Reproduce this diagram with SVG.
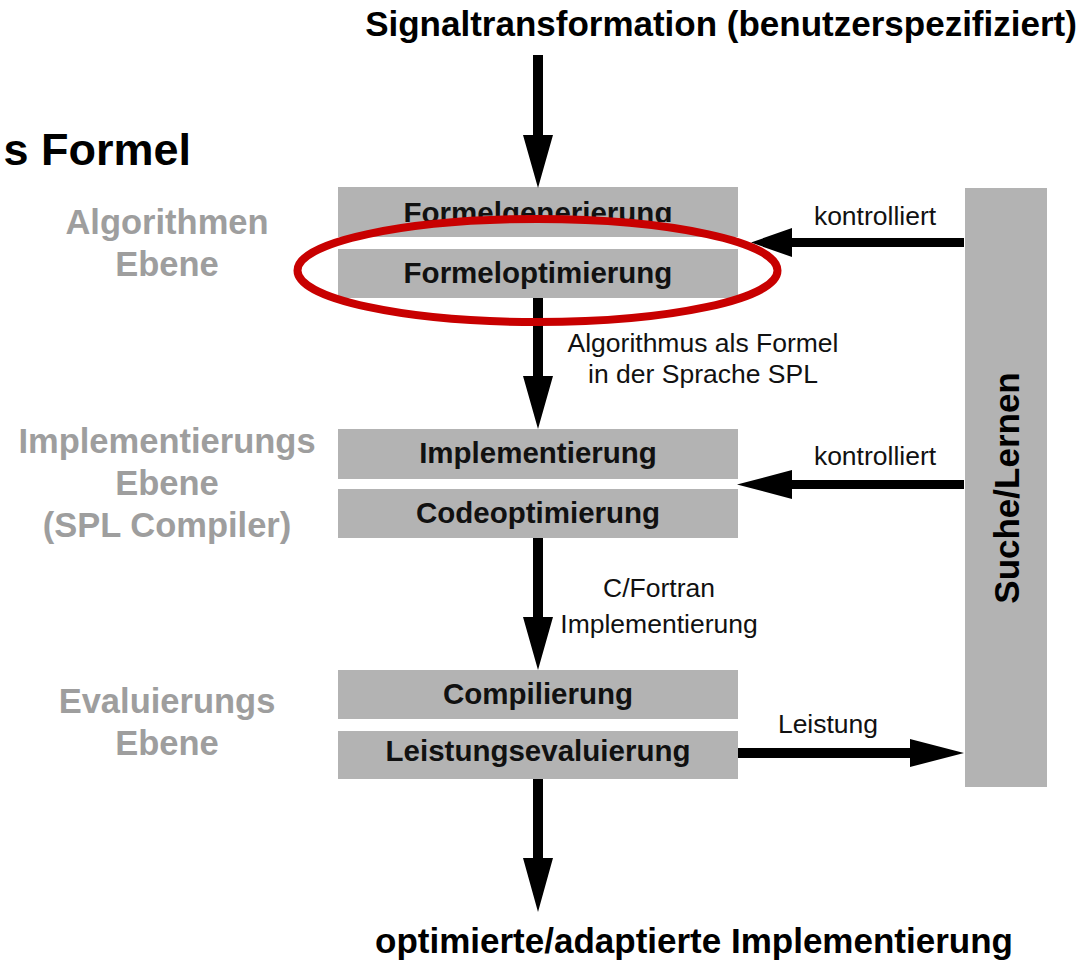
<svg xmlns="http://www.w3.org/2000/svg" width="1089" height="964" viewBox="0 0 1089 964">
<style>
.box{fill:#b3b3b3}
.bt{font-family:"Liberation Sans",Arial,sans-serif;font-weight:bold;font-size:29.5px;fill:#111;text-anchor:middle}
.lvl{font-family:"Liberation Sans",Arial,sans-serif;font-weight:bold;font-size:34.5px;fill:#9e9e9e;text-anchor:middle}
.big{font-family:"Liberation Sans",Arial,sans-serif;font-weight:bold;font-size:35px;fill:#000;text-anchor:middle}
.lab{font-family:"Liberation Sans",Arial,sans-serif;font-size:26.5px;fill:#111;text-anchor:middle}
.arr{fill:#000}
</style>
<defs>
<clipPath id="clipGen"><rect x="338" y="187" width="400" height="35"/></clipPath>
</defs>
<rect width="1089" height="964" fill="#fff"/>

<text class="big" x="721" y="36">Signaltransformation (benutzerspezifiziert)</text>
<text class="big" x="191" y="165" style="font-size:45px;text-anchor:end">s Formel</text>
<text class="big" x="694" y="953">optimierte/adaptierte Implementierung</text>

<g id="levels">
<text class="lvl" x="167" y="234">Algorithmen</text>
<text class="lvl" x="167" y="276">Ebene</text>
<text class="lvl" x="167" y="453">Implementierungs</text>
<text class="lvl" x="167" y="495">Ebene</text>
<text class="lvl" x="167" y="537">(SPL Compiler)</text>
<text class="lvl" x="167" y="713">Evaluierungs</text>
<text class="lvl" x="167" y="755">Ebene</text>
</g>

<g id="formelgenerierung">
<rect class="box" x="338" y="187" width="400" height="50"/>
<text class="bt" x="538" y="223" clip-path="url(#clipGen)">Formelgenerierung</text>
</g>
<g id="formeloptimierung">
<rect class="box" x="338" y="249" width="400" height="49"/>
<text class="bt" x="538" y="283">Formeloptimierung</text>
</g>
<g id="implementierung">
<rect class="box" x="338" y="429" width="400" height="50"/>
<text class="bt" x="538" y="463">Implementierung</text>
</g>
<g id="codeoptimierung">
<rect class="box" x="338" y="489" width="400" height="49"/>
<text class="bt" x="538" y="523">Codeoptimierung</text>
</g>
<g id="compilierung">
<rect class="box" x="338" y="670" width="400" height="49"/>
<text class="bt" x="538" y="704">Compilierung</text>
</g>
<g id="leistungsevaluierung">
<rect class="box" x="338" y="731" width="400" height="48"/>
<text class="bt" x="538" y="761">Leistungsevaluierung</text>
</g>
<g id="suche">
<rect class="box" x="965" y="188" width="82" height="599"/>
<text class="big" transform="translate(1019 488) rotate(-90)" x="0" y="0">Suche/Lernen</text>
</g>

<g id="connectors">
<polygon class="arr" points="533,55 543,55 543,135 553,135 538,188 523,135 533,135"/>
<polygon class="arr" points="533,298 543,298 543,376 553,376 538,429 523,376 533,376"/>
<polygon class="arr" points="533,538 543,538 543,617 553,617 538,670 523,617 533,617"/>
<polygon class="arr" points="533,779 543,779 543,858 553,858 538,912 523,858 533,858"/>
<polygon class="arr" points="964,238 964,247 792,247 792,257 751,242.5 792,228 792,238"/>
<polygon class="arr" points="964,480 964,489 792,489 792,499 737,484.5 792,470 792,480"/>
<polygon class="arr" points="738,748 910,748 910,739 964,753 910,767 910,758 738,758"/>
<text class="lab" x="875" y="225">kontrolliert</text>
<text class="lab" x="875" y="465">kontrolliert</text>
<text class="lab" x="703" y="352">Algorithmus als Formel</text>
<text class="lab" x="703" y="383">in der Sprache SPL</text>
<text class="lab" x="659" y="597">C/Fortran</text>
<text class="lab" x="659" y="633">Implementierung</text>
<text class="lab" x="828" y="733">Leistung</text>
</g>

<ellipse id="highlight" cx="537.5" cy="270.5" rx="240" ry="51.5" fill="none" stroke="#c80000" stroke-width="8"/>
</svg>
